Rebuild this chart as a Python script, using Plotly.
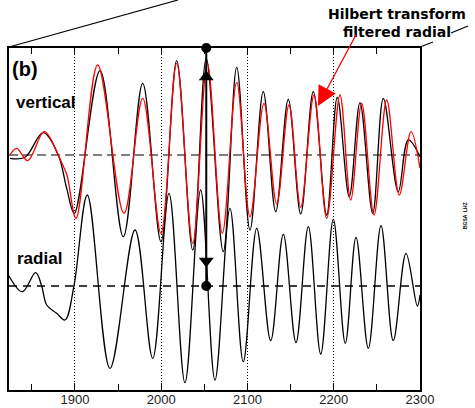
import plotly.graph_objects as go

# ---- seismogram samples (time in s, amplitude in arbitrary units) ----
# radial component
RADIAL_T = [1823.5, 1838.9, 1854.4, 1861.4, 1867.2, 1878.8, 1888.4, 1898.8, 1914.3,
            1940.6, 1969.6, 1990.1, 2009.0, 2027.5, 2045.7, 2062.3, 2079.7, 2095.1,
            2110.7, 2126.9, 2141.5, 2156.2, 2170.5, 2184.9, 2199.5, 2213.4, 2225.8,
            2240.1, 2254.8, 2269.0, 2283.8, 2296.9, 2300.0]
RADIAL_A = [10, -5.7, 13.3, 0, -19, -27.3, -34, 0, 91,
            -82.3, 56, -72.3, 92.7, -96.7, 96, -94, 77.7, -75.7,
            57.7, -54.7, 51.7, -56.7, 59.3, -68, 66.7, -57.3, 48.7,
            -62.3, 60.3, -54.7, 32.7, -20, -9]

# vertical component
VERT_T = [1824.6, 1842.0, 1863.2, 1880.6, 1890.4, 1899.2, 1929.0, 1956.0, 1978.5,
          1999.7, 2017.9, 2036.5, 2052.2, 2071.9, 2087.5, 2102.9, 2118.3, 2132.7,
          2147.3, 2161.7, 2176.3, 2191.8, 2204.1, 2218.0, 2230.4, 2245.2, 2257.5,
          2274.8, 2286.4, 2300.0]
VERT_A = [-3.3, -2.3, 22.3, 0, -33.3, -58.3, 84.3, -81.7, 71.7,
          -86.7, 94.3, -95, 96.7, -96.7, 87.7, -75, 63.3, -56.7,
          55.7, -59, 63.3, -60, 57.7, -41.7, 52.3, -58.3, 56.7,
          -36.7, 15, -1.7]

# Hilbert transform of the filtered radial component
HILB_T = [1824.6, 1832.4, 1845.2, 1864.4, 1880.6, 1884.9, 1890.7, 1901.2, 1926.3,
          1956.8, 1978.5, 1999.7, 2017.9, 2036.5, 2053.4, 2070.8, 2087.5, 2102.9,
          2119.1, 2133.9, 2148.1, 2161.7, 2177.1, 2191.8, 2207.2, 2219.7, 2232.4,
          2246.7, 2261.4, 2276.0, 2289.6, 2300.0]
HILB_A = [0, 6.7, -5.7, 23.3, 0, -8.3, -20, -63.3, 90,
          -58.3, 56.7, -78.3, 91.7, -88.3, 91.7, -78.3, 72.7, -61.7,
          51.7, -49, 50, -52.3, 60, -63.3, 60, -45, 51.7,
          -60, 55, -40, 23.3, -13.3]

X_TICKS = [1900, 2000, 2100, 2200, 2300]
X_LABELS = ["1900", "2000", "2100", "2200", "2300"]

PEAK_TIME = 2052.2          # time of the picked vertical maximum
VERT_OFFSET = 131           # vertical trace is drawn above the radial one
Y_RANGE = [-104, 238]
X_RANGE = [1823.5, 2300]

FONT = "Liberation Sans"

# plot-area geometry in pixels, used to place decorations in paper units
L, R, T, B = 9, 55, 48, 18
W, H = 475, 408
PW, PH = W - L - R, H - T - B


def px(x, y):
    """pixel position -> paper coordinates"""
    return (x - L) / PW, (H - B - y) / PH


fig = go.Figure()

# zero lines of both traces
for off, col, dash in [(VERT_OFFSET, "#555555", "9px,5px"), (0, "black", "8px,6px")]:
    fig.add_trace(go.Scatter(x=X_RANGE, y=[off, off], mode="lines",
                             line=dict(color=col, width=1.3, dash=dash),
                             hoverinfo="skip", showlegend=False))

# radial trace
fig.add_trace(go.Scatter(x=RADIAL_T, y=RADIAL_A, mode="lines",
                         line=dict(color="black", width=1.3, shape="spline", smoothing=1.0),
                         showlegend=False))
# vertical trace
fig.add_trace(go.Scatter(x=VERT_T, y=[a + VERT_OFFSET for a in VERT_A], mode="lines",
                         line=dict(color="black", width=1.3, shape="spline", smoothing=1.0),
                         showlegend=False))
# Hilbert-transformed filtered radial
fig.add_trace(go.Scatter(x=HILB_T, y=[a + VERT_OFFSET for a in HILB_A], mode="lines",
                         line=dict(color="#ff0000", width=1.3, shape="spline", smoothing=1.0),
                         showlegend=False))

# pick line linking the vertical maximum with the radial zero crossing
fig.add_trace(go.Scatter(x=[PEAK_TIME, PEAK_TIME], y=[Y_RANGE[1], 0], mode="lines",
                         line=dict(color="black", width=2), showlegend=False,
                         cliponaxis=False))
fig.add_trace(go.Scatter(x=[PEAK_TIME, PEAK_TIME], y=[Y_RANGE[1], 0], mode="markers",
                         marker=dict(symbol="circle", size=10, color="black"),
                         showlegend=False, cliponaxis=False))
fig.add_trace(go.Scatter(x=[PEAK_TIME], y=[VERT_OFFSET + 78], mode="markers",
                         marker=dict(symbol="triangle-up", size=13, color="black"),
                         showlegend=False))
fig.add_trace(go.Scatter(x=[PEAK_TIME], y=[25], mode="markers",
                         marker=dict(symbol="triangle-down", size=13, color="black"),
                         showlegend=False))

# perspective lines towards the panel above
line_style = dict(color="black", width=1.2)
for (xa, ya), (xb, yb) in [((9, 47), (178, 0)), ((420, 47), (433, 42)), ((451, 33), (468, 26))]:
    x0, y0 = px(xa, ya)
    x1, y1 = px(xb, yb)
    fig.add_shape(type="line", xref="paper", yref="paper",
                  x0=x0, y0=y0, x1=x1, y1=y1, line=line_style)

hx, hy = px(397, 23)
sx, sy = px(470, 216)
annotations = [
    dict(text="<b>(b)</b>", x=0.003, y=0.94, xref="paper", yref="paper",
         xanchor="left", yanchor="middle", showarrow=False,
         font=dict(family=FONT, size=20, color="black")),
    dict(text="<b>vertical</b>", x=0.012, y=0.84, xref="paper", yref="paper",
         xanchor="left", yanchor="middle", showarrow=False,
         font=dict(family=FONT, size=17, color="black")),
    dict(text="<b>radial</b>", x=0.014, y=0.385, xref="paper", yref="paper",
         xanchor="left", yanchor="middle", showarrow=False,
         font=dict(family=FONT, size=17, color="black")),
    dict(text="<b>Hilbert transform<br>filtered radial</b>", x=hx, y=hy,
         xref="paper", yref="paper", xanchor="center", yanchor="middle",
         align="center", showarrow=False,
         font=dict(family="DejaVu Sans", size=14, color="black")),
    dict(text="<b>BGSA  LHZ</b>", x=sx, y=sy, xref="paper", yref="paper",
         textangle=-90, showarrow=False,
         font=dict(family=FONT, size=5, color="black")),
    # arrow pointing at the Hilbert trace
    dict(text="", x=2181.7, y=180, xref="x", yref="y", ax=39, ay=-73,
         showarrow=True, arrowhead=2, arrowsize=3, arrowwidth=1.3, arrowcolor="#ff0000"),
]

fig.update_layout(
    width=W, height=H,
    margin=dict(l=L, r=R, t=T, b=B),
    paper_bgcolor="white", plot_bgcolor="white",
    annotations=annotations,
    xaxis=dict(range=X_RANGE, tickvals=X_TICKS, ticktext=X_LABELS, automargin=False,
               showgrid=True, gridcolor="black", gridwidth=1, griddash="1px,2px",
               ticks="inside", ticklen=7, tickwidth=1, tickcolor="black",
               minor=dict(ticks="inside", ticklen=6, tickwidth=1, tickcolor="black",
                          tick0=1850, dtick=50, showgrid=False),
               showline=True, linecolor="black", linewidth=1.5, mirror="ticks",
               zeroline=False, ticklabelstandoff=-3,
               tickfont=dict(family=FONT, size=13, color="#222222")),
    yaxis=dict(range=Y_RANGE, showticklabels=False, showgrid=False, zeroline=False,
               automargin=False,
               ticks="", showline=True, linecolor="black", linewidth=1.5, mirror=True),
)

fig.write_html("out.html")
